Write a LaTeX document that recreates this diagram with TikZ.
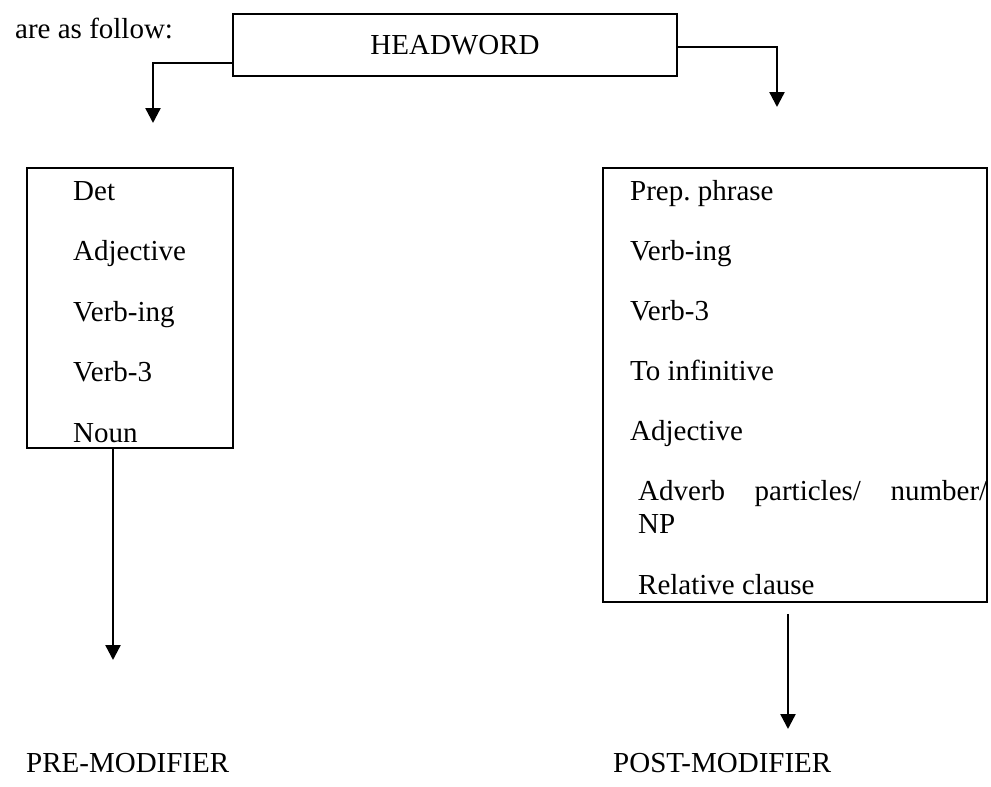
\documentclass[tikz,border=0pt]{standalone}
\usepackage{fontspec}
\setmainfont{Liberation Serif}
\usetikzlibrary{arrows.meta}

\begin{document}
\begin{tikzpicture}[x=1pt,y=-1pt,
    every node/.style={font=\fontsize{29}{33}\selectfont\frenchspacing, inner sep=0pt},
    box/.style={draw, line width=1.5pt, rectangle},
    item/.style={anchor=base west},
    conn/.style={line width=2.4pt, -{Triangle[width=15pt,length=15pt]}}]
    \useasboundingbox (0,0) rectangle (991,787);
    % Draw the lead-in text and the headword box
    \node[item] (intro) at (15,38) {are as follow:};
    \node[box, minimum width=444pt, minimum height=62pt] (head) at (455,45) {HEADWORD};
    % Draw the two modifier boxes
    \node[box, minimum width=206pt, minimum height=280pt] (prebox) at (130,308) {};
    \node[box, minimum width=384pt, minimum height=434pt] (postbox) at (795,385) {};
    % Fill the pre-modifier box
    \foreach \txt [count=\i] in {Det, Adjective, Verb-ing, Verb-3, Noun}
        \node[item] (pre\i) at (73,{200+60.5*(\i-1)}) {\txt};
    % Fill the post-modifier box
    \foreach \txt/\y [count=\i] in {Prep. phrase/200, Verb-ing/260, Verb-3/320, To infinitive/380, Adjective/440}
        \node[item] (post\i) at (630,\y) {\txt};
    \node[item] (post6) at (638,500) {\hbox to 349pt{Adverb\hfill particles/\hfill number/}};
    \node[item] (post7) at (638,533) {NP};
    \node[item] (post8) at (638,594) {Relative clause};
    % Draw the bottom labels
    \node[item] (prelabel) at (26,772) {PRE-MODIFIER};
    \node[item] (postlabel) at (613,772) {POST-MODIFIER};
    % Draw the arrows
    \coordinate (preTop) at (153,123);
    \coordinate (postTop) at (777,107);
    \coordinate (preEnd) at (113,660);
    \coordinate (postEnd) at (788,729);
    \draw[conn] ([yshift=-18pt]head.west) -| (preTop);
    \draw[conn] ([yshift=-2pt]head.east) -| (postTop);
    \draw[conn] (preEnd |- prebox.south) -- (preEnd);
    \path (postEnd |- postbox.south) ++(0pt,-11pt) coordinate (postStart);
    \draw[conn] (postStart) -- (postEnd);
\end{tikzpicture}
\end{document}
